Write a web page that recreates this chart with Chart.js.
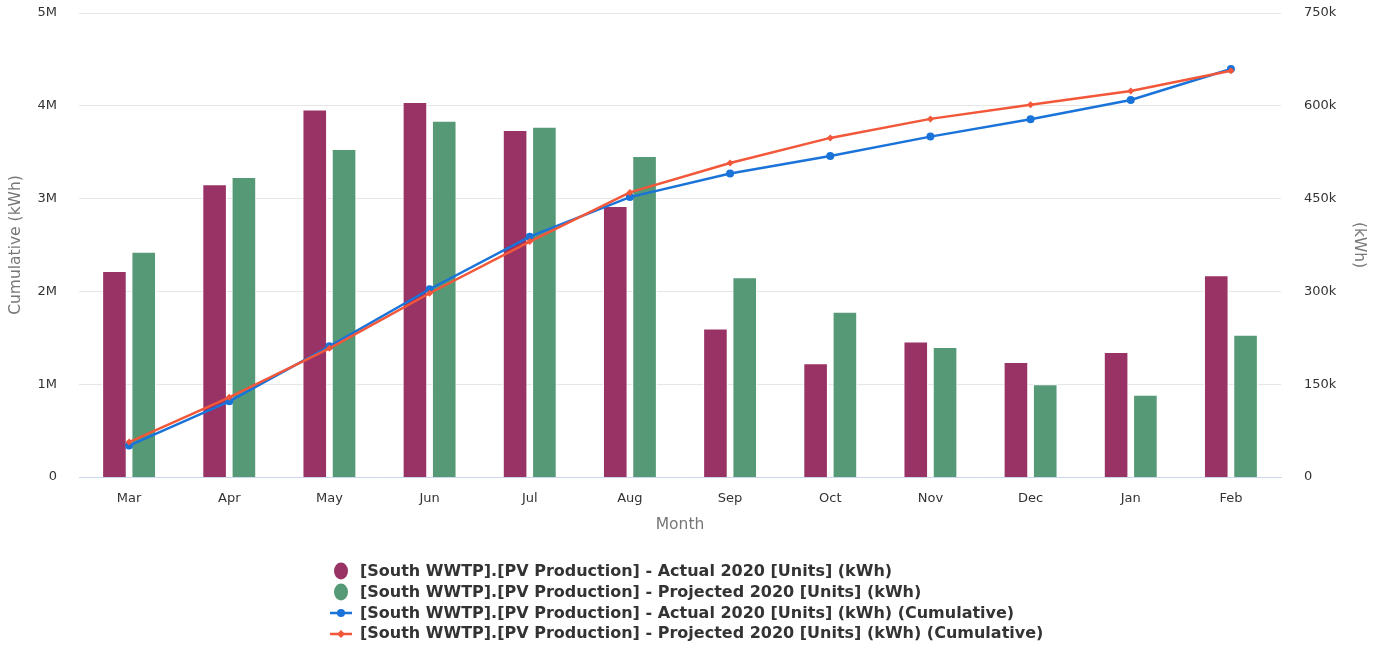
<!DOCTYPE html>
<html>
<head>
<meta charset="utf-8">
<script src="https://cdn.jsdelivr.net/npm/chart.js@4.4.1/dist/chart.umd.min.js"></script>
<style>
  html, body { margin: 0; padding: 0; background: #fff; }
  #wrap { position: relative; width: 1380px; height: 545px; }
  #legend { position: absolute; left: 330px; top: 561px; font-family: "DejaVu Sans", sans-serif; font-weight: bold; font-size: 16px; color: #333; }
  .item { height: 20.8px; line-height: 20.8px; display: flex; align-items: center; white-space: nowrap; }
  .icon { width: 24px; height: 20px; margin-right: 6px; display: inline-block; }
</style>
</head>
<body>
<div id="wrap"><canvas id="c"></canvas></div>
<div id="legend"></div>
<script>
const months = ['Mar','Apr','May','Jun','Jul','Aug','Sep','Oct','Nov','Dec','Jan','Feb'];
const actual2020 = [333000, 473000, 594000, 606000, 561000, 438000, 240000, 184000, 219000, 186000, 202000, 326000];
const projected2020 = [364000, 485000, 530000, 576000, 566000, 519000, 323000, 267000, 210000, 150000, 133000, 230000];
const actualCumulative = [339000, 816000, 1408000, 2023000, 2590000, 3016000, 3270000, 3459000, 3668000, 3856000, 4062000, 4397000];
const projectedCumulative = [376000, 859000, 1387000, 1980000, 2537000, 3067000, 3384000, 3654000, 3859000, 4011000, 4159000, 4378000];
const leftTickLabels = ['0','1M','2M','3M','4M','5M'];
const rightTickLabels = ['0','150k','300k','450k','600k','750k'];

const labels = [
  '[South WWTP].[PV Production] - Actual 2020 [Units] (kWh)',
  '[South WWTP].[PV Production] - Projected 2020 [Units] (kWh)',
  '[South WWTP].[PV Production] - Actual 2020 [Units] (kWh) (Cumulative)',
  '[South WWTP].[PV Production] - Projected 2020 [Units] (kWh) (Cumulative)'
];
const colors = ['#993366', '#559977', '#1a73d9', '#f2573a'];

const TICKFONT = '"DejaVu Sans", sans-serif';
const TITLEFONT = '"DejaVu Sans", sans-serif';

const chart = new Chart(document.getElementById('c'), {
  data: {
    labels: months,
    datasets: [
      { type: 'bar', label: labels[0], data: actual2020, yAxisID: 'y1', backgroundColor: colors[0], borderColor: '#ffffff', borderWidth: 1, order: 2, categoryPercentage: 0.585, barPercentage: 0.84 },
      { type: 'bar', label: labels[1], data: projected2020, yAxisID: 'y1', backgroundColor: colors[1], borderColor: '#ffffff', borderWidth: 1, order: 2, categoryPercentage: 0.585, barPercentage: 0.84 },
      { type: 'line', label: labels[2], data: actualCumulative, yAxisID: 'y', borderColor: colors[2], backgroundColor: colors[2], borderWidth: 2.5, pointRadius: 4, pointStyle: 'circle', pointBorderWidth: 0, tension: 0, order: 1 },
      { type: 'line', label: labels[3], data: projectedCumulative, yAxisID: 'y', borderColor: colors[3], backgroundColor: colors[3], borderWidth: 2.5, pointRadius: 3.5, pointStyle: 'rectRot', pointBorderWidth: 0, tension: 0, order: 0 }
    ]
  },
  options: {
    responsive: true,
    maintainAspectRatio: false,
    animation: false,
    layout: { padding: { top: 13, left: 0, right: 0, bottom: 0 } },
    plugins: { legend: { display: false }, tooltip: { enabled: false } },
    scales: {
      x: {
        type: 'category',
        grid: { display: false, drawTicks: false },
        border: { display: true, color: '#ccd6eb', width: 1 },
        ticks: { color: '#333', font: { family: TICKFONT, size: 13 }, padding: 14, maxRotation: 0 },
        title: { display: true, text: 'Month', color: '#777', font: { family: TITLEFONT, size: 15.5 }, padding: { top: 0, bottom: 11 } },
        afterFit: s => { s.height = 68; }
      },
      y: {
        position: 'left',
        min: 0, max: 5000000,
        ticks: { stepSize: 1000000, color: '#333', font: { family: TICKFONT, size: 13 }, padding: 22,
          callback: (v) => leftTickLabels[Math.round(v / 1000000)] },
        grid: { color: '#e6e6e6', drawTicks: false },
        border: { display: false },
        title: { display: true, text: 'Cumulative (kWh)', color: '#777', font: { family: TITLEFONT, size: 15.5 }, padding: { top: 6.5, bottom: 0 } },
        afterFit: s => { s.width = 79; s.paddingTop = 0; s.paddingBottom = 0; }
      },
      y1: {
        position: 'right',
        min: 0, max: 750000,
        ticks: { stepSize: 150000, color: '#333', font: { family: TICKFONT, size: 13 }, padding: 23,
          callback: (v) => rightTickLabels[Math.round(v / 150000)] },
        grid: { display: false, drawTicks: false },
        border: { display: false },
        title: { display: true, text: '(kWh)', color: '#777', font: { family: TITLEFONT, size: 15.5 }, padding: { top: 11.5, bottom: 0 } },
        afterFit: s => { s.width = 99; s.paddingTop = 0; s.paddingBottom = 0; }
      }
    }
  }
});

// HTML legend built from the chart's datasets
const legend = document.getElementById('legend');
chart.data.datasets.forEach((ds) => {
  const row = document.createElement('div');
  row.className = 'item';
  const c = document.createElement('canvas');
  c.width = 24; c.height = 20; c.className = 'icon';
  const g = c.getContext('2d');
  if (ds.type === 'bar') {
    g.fillStyle = ds.backgroundColor;
    g.beginPath(); g.ellipse(11, 10, 7, 8.5, 0, 0, Math.PI * 2); g.fill();
  } else {
    g.strokeStyle = ds.borderColor; g.lineWidth = 2.5;
    g.beginPath(); g.moveTo(0, 10); g.lineTo(22, 10); g.stroke();
    g.fillStyle = ds.borderColor;
    g.beginPath();
    if (ds.pointStyle === 'rectRot') { g.moveTo(11, 6); g.lineTo(15, 10); g.lineTo(11, 14); g.lineTo(7, 10); g.closePath(); }
    else { g.arc(11, 10, 4, 0, Math.PI * 2); }
    g.fill();
  }
  const t = document.createElement('span');
  t.textContent = ds.label;
  row.appendChild(c); row.appendChild(t);
  legend.appendChild(row);
});
</script>
</body>
</html>
